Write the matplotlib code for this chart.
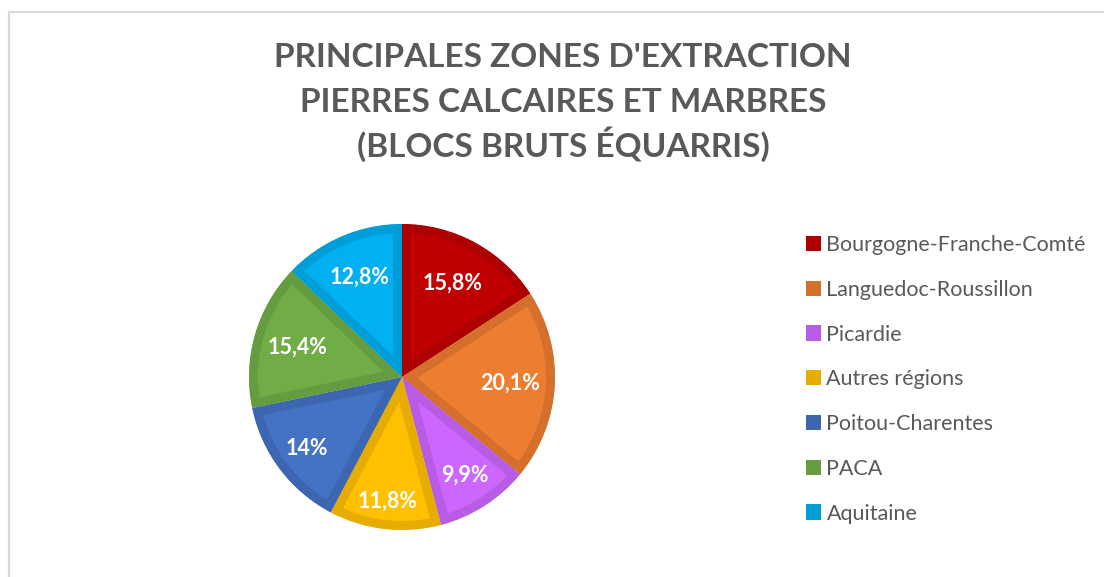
import numpy as np
import matplotlib.pyplot as plt
from matplotlib.patches import Patch

plt.rcParams["font.family"] = ["Lato", "DejaVu Sans"]

regions = ["Bourgogne-Franche-Comté", "Languedoc-Roussillon", "Picardie",
           "Autres régions", "Poitou-Charentes", "PACA", "Aquitaine"]
shares = [15.8, 20.1, 9.9, 11.8, 14.0, 15.4, 12.8]
labels = ["15,8%", "20,1%", "9,9%", "11,8%", "14%", "15,4%", "12,8%"]
title_lines = ["PRINCIPALES ZONES D'EXTRACTION",
               "PIERRES CALCAIRES ET MARBRES",
               "(BLOCS BRUTS ÉQUARRIS)"]

fills = ["#C00000", "#ED7D31", "#CC66FF", "#FFC000", "#4472C4", "#70AD47", "#00B0F0"]
edges = ["#AD0000", "#D5702C", "#B85CE6", "#E6AD00", "#3D66B0", "#659C40", "#009ED8"]
# label distance from centre, as fraction of radius
label_r = [0.70, 0.71, 0.76, 0.82, 0.78, 0.71, 0.71]

W, H = 1104, 577
fig = plt.figure(figsize=(W / 100, H / 100), dpi=100)

# light chart frame
frame = fig.add_axes([0, 0, 1, 1], zorder=-1)
frame.set_xlim(0, W)
frame.set_ylim(H, 0)
frame.axis("off")
frame.plot([9, 9, W + 5], [H + 5, 12, 12], color="#D9D9D9", lw=1.6)

# title, one text per line so the spacing stays even
for i, line in enumerate(title_lines):
    frame.text(563, 67 + 45 * i, line, ha="center", va="baseline",
               fontsize=24, fontweight="bold", color="#595959")

cx, cy, R = 402, 377, 153
ax = fig.add_axes([(cx - R) / W, (H - cy - R) / H, 2 * R / W, 2 * R / H])
wedges, _ = ax.pie(shares, colors=fills, startangle=90, counterclock=False,
                   radius=1, wedgeprops=dict(linewidth=13))
for w, ec in zip(wedges, edges):
    w.set_edgecolor(ec)
    w.set_clip_on(True)
    w.set_clip_path(w)   # keep only the inner half of the stroke
ax.set_xlim(-1, 1)
ax.set_ylim(-1, 1)

for w, lab, r in zip(wedges, labels, label_r):
    ang = np.deg2rad((w.theta1 + w.theta2) / 2)
    ax.text(r * np.cos(ang), r * np.sin(ang), lab, ha="center", va="center",
            color="white", fontsize=15.5, fontweight="bold")

handles = [Patch(facecolor=ec, edgecolor="none") for ec in edges]
fig.legend(handles, regions, loc="upper left", bbox_to_anchor=(806 / W, 1 - 235 / H),
           frameon=False, fontsize=15.5, labelcolor="#595959", handlelength=0.7,
           handleheight=0.7, handletextpad=0.25, labelspacing=1.15, borderpad=0,
           borderaxespad=0)

fig.savefig("out.png", dpi=100)
